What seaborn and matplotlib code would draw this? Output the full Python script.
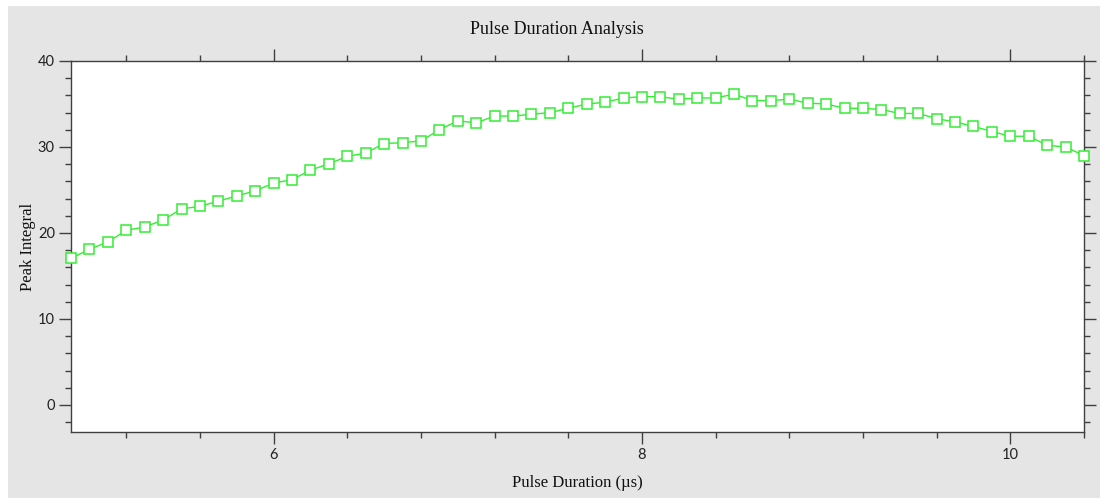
import numpy as np
import pandas as pd
import matplotlib
matplotlib.use("Agg")
import matplotlib.pyplot as plt
from matplotlib.ticker import MultipleLocator
from matplotlib.patches import Rectangle
import seaborn as sns

# Data
pulse_duration = [4.9, 5.0, 5.1, 5.2, 5.3, 5.4, 5.5, 5.6, 5.7, 5.8, 5.9,
                  6.0, 6.1, 6.2, 6.3, 6.4, 6.5, 6.6, 6.7, 6.8, 6.9,
                  7.0, 7.1, 7.2, 7.3, 7.4, 7.5, 7.6, 7.7, 7.8, 7.9,
                  8.0, 8.1, 8.2, 8.3, 8.4, 8.5, 8.6, 8.7, 8.8, 8.9,
                  9.0, 9.1, 9.2, 9.3, 9.4, 9.5, 9.6, 9.7, 9.8, 9.9,
                  10.0, 10.1, 10.2, 10.3, 10.4]
peak_integral = [17.05, 18.1, 18.95, 20.3, 20.7, 21.5, 22.8, 23.1, 23.7, 24.3, 24.9,
                 25.8, 26.2, 27.3, 28.05, 28.9, 29.3, 30.4, 30.5, 30.7, 32.0,
                 33.05, 32.8, 33.6, 33.6, 33.8, 34.0, 34.5, 35.0, 35.2, 35.7,
                 35.85, 35.85, 35.55, 35.7, 35.7, 36.15, 35.4, 35.4, 35.55, 35.1,
                 35.0, 34.5, 34.5, 34.35, 33.9, 33.9, 33.3, 32.9, 32.4, 31.8,
                 31.25, 31.25, 30.2, 30.0, 29.0]

title = "Pulse Duration Analysis"
x_label = "Pulse Duration (\u00b5s)"
y_label = "Peak Integral"

df = pd.DataFrame({"x": pulse_duration, "y": peak_integral})

sns.set_style("ticks")
plt.rcParams["font.family"] = ["Liberation Serif", "DejaVu Serif"]

bg = "#e5e5e5"
spine_c = "#404040"

fig = plt.figure(figsize=(11.0, 4.98), dpi=100, facecolor=bg)
# white margins at top and left as in the reference screenshot
fig.patches.append(Rectangle((0, 1 - 6 / 498), 1, 6 / 498, transform=fig.transFigure,
                             facecolor="white", edgecolor="none", zorder=-10))
fig.patches.append(Rectangle((0, 0), 8 / 1100, 1, transform=fig.transFigure,
                             facecolor="white", edgecolor="none", zorder=-10))

ax = fig.add_axes([71 / 1100, 1 - 432 / 498, (1084 - 71) / 1100, (432 - 61) / 498])
ax.set_facecolor("white")

sns.lineplot(data=df, x="x", y="y", ax=ax, color="#33ee33", linewidth=1.0,
             marker="s", markersize=6.8, markerfacecolor="white",
             markeredgecolor="#33ee33", markeredgewidth=1.1, clip_on=False,
             zorder=5)

ax.set_xlim(4.9, 10.4)
ax.set_ylim(-3.15, 40)

ax.xaxis.set_major_locator(MultipleLocator(2))
ax.xaxis.set_minor_locator(MultipleLocator(0.4))
ax.yaxis.set_major_locator(MultipleLocator(10))
ax.yaxis.set_minor_locator(MultipleLocator(2))

for s in ax.spines.values():
    s.set_visible(True)
    s.set_color(spine_c)
    s.set_linewidth(1.0)

ax.tick_params(which="both", direction="out", top=True, right=True,
               color=spine_c, width=1.0, labelcolor="#222222",
               labelsize=10.5)
ax.tick_params(which="major", length=8.6, pad=3)
ax.tick_params(which="minor", length=4.3)
for lab in ax.get_xticklabels() + ax.get_yticklabels():
    lab.set_family(["Lato", "DejaVu Sans"])

ax.set_xlabel(x_label, fontsize=12, color="#111111", labelpad=9)
ax.set_ylabel(y_label, fontsize=12, color="#111111", labelpad=1)
ax.grid(False)

fig.text(557 / 1100, 1 - 29 / 498, title, ha="center", va="center",
         fontsize=13, color="#111111")

fig.savefig("out.png", dpi=100, facecolor=fig.get_facecolor())
